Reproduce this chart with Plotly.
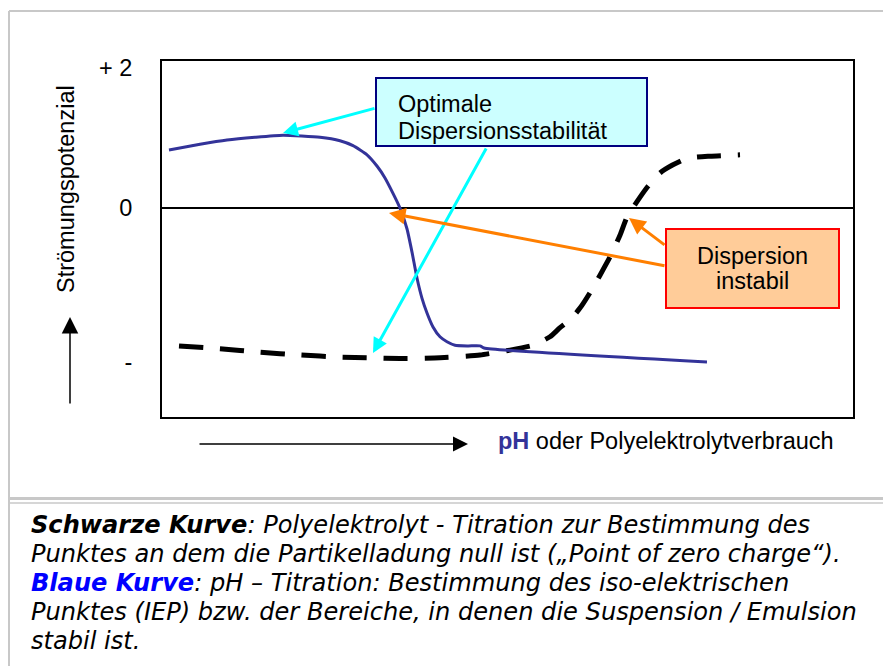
import plotly.graph_objects as go

# ---- data ----
blue_x = [1.01, 5.50, 9.41, 13.46, 17.51, 22.87, 25.76, 27.64, 29.67, 31.11, 32.27, 33.43,
          34.44, 35.46, 36.18, 36.90, 37.63, 38.35, 39.22, 40.23, 41.24, 42.40, 44.28, 46.02,
          46.60, 78.87]
blue_y = [0.83, 0.91, 0.97, 1.01, 1.04, 1.01, 0.96, 0.89, 0.76, 0.60, 0.43, 0.21,
          0.00, -0.30, -0.63, -1.00, -1.29, -1.50, -1.70, -1.84, -1.91, -1.96, -1.97, -1.97,
          -2.00, -2.20]
black_x = [2.46, 8.39, 14.18, 19.97, 25.76, 30.10, 34.44, 40.23, 46.02, 50.36, 53.69, 56.15,
           57.60, 59.04, 60.49, 61.94, 63.39, 64.83, 66.28, 67.29, 68.74, 70.33, 72.07, 73.81,
           75.98, 79.31, 83.65]
black_y = [-1.97, -2.01, -2.06, -2.10, -2.13, -2.14, -2.15, -2.14, -2.10, -2.03, -1.96, -1.84,
           -1.71, -1.60, -1.43, -1.21, -0.96, -0.70, -0.39, -0.13, 0.09, 0.31, 0.50, 0.61,
           0.71, 0.74, 0.76]
y_tickvals = [2, 0, -2.19]
y_ticktext = ["+ 2", "0", "-"]

W, H = 883, 666
L, R, T, B = 162, 853, 61, 417


def px(x):
    return (x - L) / (R - L)


def py(y):
    return (B - y) / (B - T)


fig = go.Figure()
fig.add_trace(go.Scatter(x=black_x, y=black_y, mode="lines",
                         line=dict(color="black", width=5, dash="24px,17px", shape="spline", smoothing=0.5),
                         hoverinfo="skip", showlegend=False))
fig.add_trace(go.Scatter(x=blue_x, y=blue_y, mode="lines",
                         line=dict(color="#333399", width=3, shape="spline", smoothing=0.5),
                         hoverinfo="skip", showlegend=False))

shapes = []
gray = "#c8c8c8"
# outer frame lines
shapes.append(dict(type="line", xref="paper", yref="paper", x0=px(9), x1=px(890), y0=py(11), y1=py(11),
                   line=dict(color=gray, width=2)))
shapes.append(dict(type="line", xref="paper", yref="paper", x0=px(9), x1=px(9), y0=py(11), y1=py(670),
                   line=dict(color=gray, width=2)))
shapes.append(dict(type="line", xref="paper", yref="paper", x0=px(9), x1=px(890), y0=py(498.5), y1=py(498.5),
                   line=dict(color=gray, width=3)))
shapes.append(dict(type="line", xref="paper", yref="paper", x0=px(9), x1=px(890), y0=py(503), y1=py(503),
                   line=dict(color=gray, width=1.5)))
# text boxes
shapes.append(dict(type="rect", xref="paper", yref="paper", x0=px(376), x1=px(647), y0=py(78), y1=py(146),
                   fillcolor="#ccffff", line=dict(color="#000080", width=2), layer="above"))
shapes.append(dict(type="rect", xref="paper", yref="paper", x0=px(666), x1=px(839), y0=py(229), y1=py(308),
                   fillcolor="#ffcc99", line=dict(color="#ff0000", width=2), layer="above"))

ann = []
tf = "Liberation Sans, Arial, sans-serif"
fs = 23.5


def text(x, y, t, size=fs, xanchor="center", angle=0, color="black", family=tf):
    ann.append(dict(xref="paper", yref="paper", x=px(x), y=py(y), text=t, showarrow=False,
                    xanchor=xanchor, yanchor="middle", textangle=angle,
                    font=dict(family=family, size=size, color=color)))


text(396, 104, "Optimale", xanchor="left")
text(396, 131, "Dispersionsstabilität", xanchor="left")
text(752, 256, "Dispersion")
text(752, 281, "instabil")
text(66, 189, "Strömungspotenzial", angle=-90)
text(496, 441, "<b><span style='color:#333399'>pH</span></b> oder Polyelektrolytverbrauch", xanchor="left")

cf = "DejaVu Sans, Verdana, sans-serif"
cs = 24.1
cap = [
    "<b><i>Schwarze Kurve</i></b><i>: Polyelektrolyt - Titration zur Bestimmung des</i>",
    "<i>Punktes an dem die Partikelladung null ist („Point of zero charge“).</i>",
    "<span style='color:#0000ff'><b><i>Blaue Kurve</i></b></span><i>: pH – Titration: Bestimmung des iso-elektrischen</i>",
    "<i>Punktes (IEP) bzw. der Bereiche, in denen die Suspension / Emulsion</i>",
    "<i>stabil ist.</i>",
]
for i, c in enumerate(cap):
    text(29, 525 + 29 * i, c, size=cs, xanchor="left", family=cf)


def arrow_data(tip, tail, color, width=3, size=1.0):
    ann.append(dict(xref="x", yref="y", axref="x", ayref="y",
                    x=(tip[0] - L) / 6.91, y=(208 - tip[1]) / 70,
                    ax=(tail[0] - L) / 6.91, ay=(208 - tail[1]) / 70,
                    showarrow=True, arrowhead=2, arrowsize=size, arrowwidth=width,
                    arrowcolor=color, text=""))


arrow_data((283, 133), (376, 108), "#00ffff")
arrow_data((373, 353), (487, 147), "#00ffff")
arrow_data((629, 218), (666, 246), "#ff7f00", size=1.1)
arrow_data((389, 213), (666, 266), "#ff7f00", size=1.1)

# black axis arrows
ann.append(dict(xref="paper", yref="paper", x=px(70), y=py(317), ax=0, ay=88, text="",
                showarrow=True, arrowhead=2, arrowsize=2.2, arrowwidth=1.5, arrowcolor="black"))
ann.append(dict(xref="paper", yref="paper", x=px(468), y=py(444), ax=-270, ay=0, text="",
                showarrow=True, arrowhead=2, arrowsize=2.0, arrowwidth=1.5, arrowcolor="black"))

fig.update_layout(
    width=W, height=H,
    margin=dict(l=L, r=W - R, t=T, b=H - B),
    paper_bgcolor="white", plot_bgcolor="white",
    shapes=shapes, annotations=ann,
    xaxis=dict(range=[0, (R - L) / 6.91], showgrid=False, zeroline=False, showticklabels=False,
               ticks="", showline=True, mirror=True, linecolor="black", linewidth=2, fixedrange=True),
    yaxis=dict(range=[(208 - B) / 70, (208 - T) / 70], showgrid=False, zeroline=True,
               zerolinecolor="black", zerolinewidth=2, tickvals=y_tickvals, ticktext=y_ticktext,
               ticks="", ticklabelstandoff=23, tickfont=dict(family=tf, size=23.5, color="black"),
               showline=True, mirror=True, linecolor="black", linewidth=2, fixedrange=True),
)

fig.write_html("out.html", config={"displayModeBar": False},
               post_script="document.body.style.margin='0px';document.body.style.overflow='hidden';")
